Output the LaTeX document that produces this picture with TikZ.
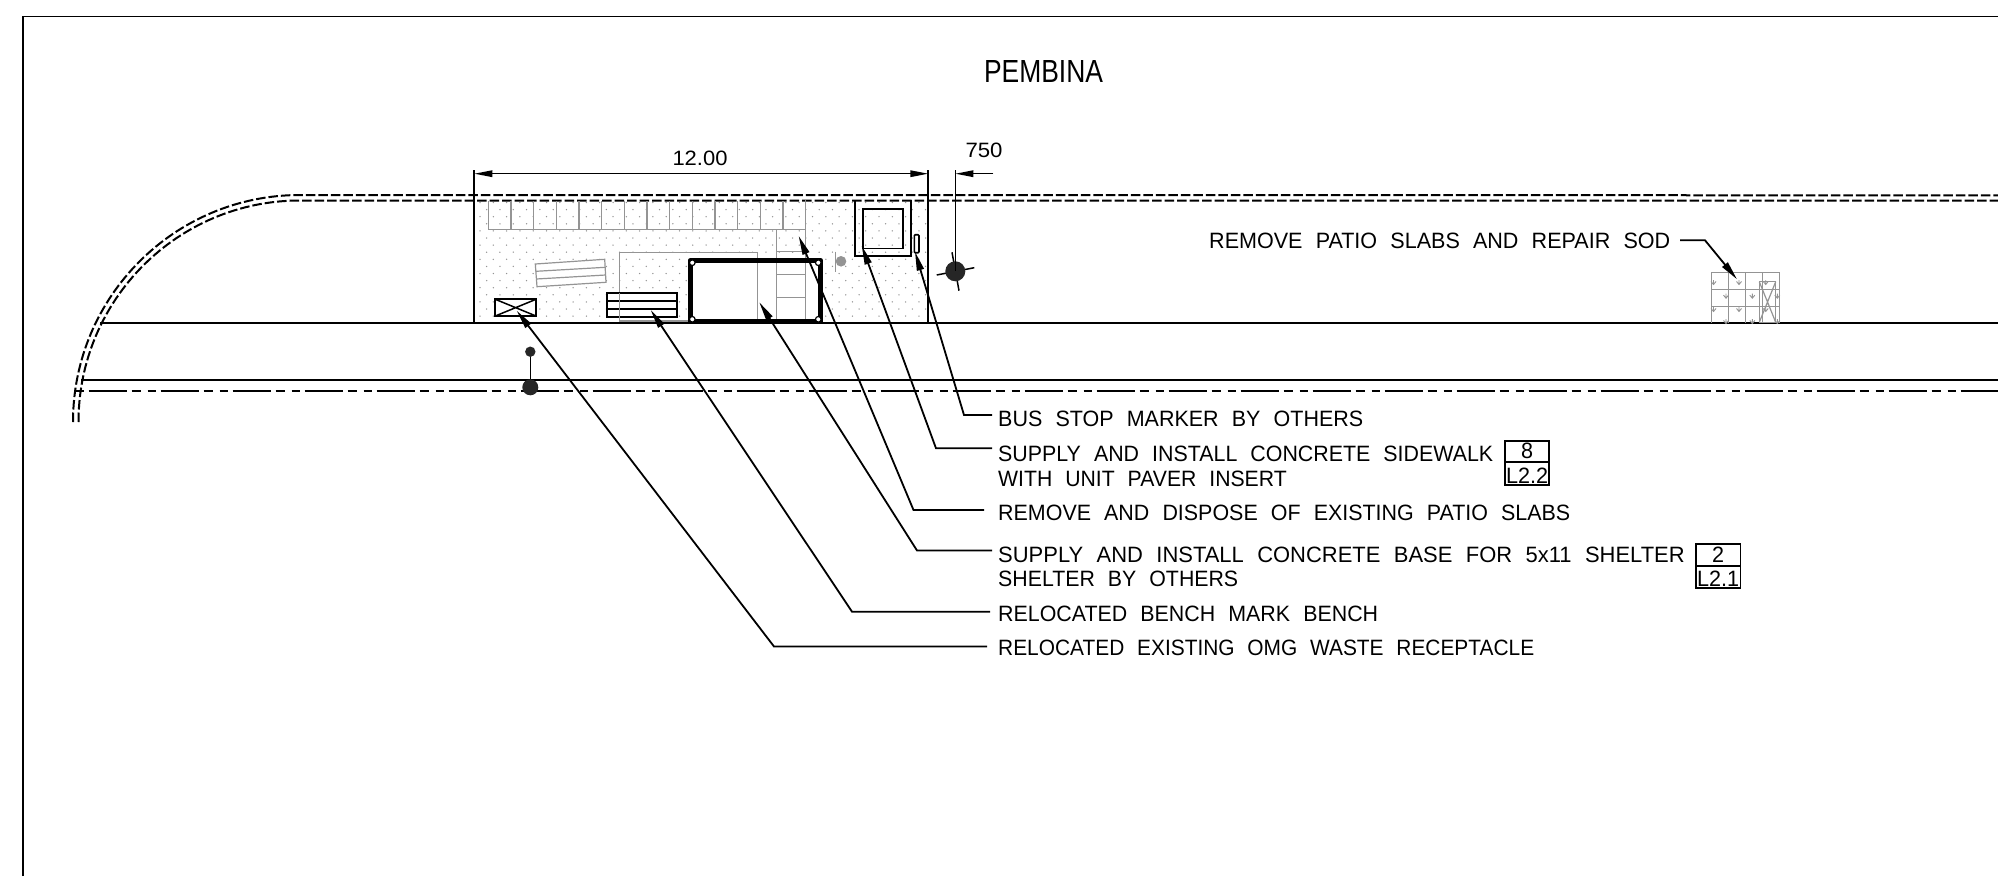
\documentclass[tikz,border=0pt]{standalone}
\usepackage{fontspec}
\setmainfont[WordSpace=2.2]{Liberation Sans}
\usetikzlibrary{arrows.meta}
\definecolor{gr}{gray}{0.58}
\tikzset{
  every picture/.style={x=1pt,y=-1pt},
  ln/.style={line width=1.7pt,black},
  gl/.style={line width=1.2pt,gr},
  dashroad/.style={line width=2pt,dash pattern=on 9.5pt off 3pt},
  centre/.style={line width=2pt,dash pattern=on 38pt off 5pt on 9pt off 7pt on 8pt off 5pt,dash phase=57.3pt},
  leader/.style={line width=1.8pt,-{Triangle[length=19pt,width=7pt]}},
  dimline/.style={line width=1.5pt},
  dimtip/.style={-{Triangle[length=18pt,width=6.5pt]}},
  lab/.style={inner sep=0pt,anchor=base west,font=\fontsize{21}{21}\selectfont},
  ctr/.style={inner sep=0pt,anchor=base,font=\fontsize{21}{21}\selectfont},
}
\newcommand{\lbl}[2]{\resizebox{#1pt}{15.5pt}{#2}}
\begin{document}
\begin{tikzpicture}
\useasboundingbox (0,0) rectangle (1998,876);
% frame
\draw[ln] (23,876) -- (23,16.5) -- (1998,16.5);
\node[ctr] (title) at (1043.5,82.8) {\resizebox{119pt}{22pt}{PEMBINA}};
% stipple
\begin{scope}
\clip (474,201) rectangle (928,323);
\foreach \r in {0,...,17}{
  \pgfmathsetmacro{\yy}{202.5+7.1*\r}
  \pgfmathsetmacro{\ox}{mod(\r,2)==0 ? 0 : 6.65}
  \foreach \c in {0,...,34}{
    \fill[gr] ({480+\ox+13.3*\c},\yy) circle (0.75);
  }
}
\end{scope}
% road
\draw[dashroad] (73,422) arc[start angle=180,end angle=270,x radius=227pt,y radius=-227pt] -- (1998,195.3);
\draw[dashroad] (78.5,422) arc[start angle=180,end angle=270,x radius=221.5pt,y radius=-221.5pt] -- (1998,200.5);
\draw[ln] (100,323.3) -- (1998,323.3);
\draw[ln] (81,380) -- (1998,380);
\draw[centre] (74,391.3) -- (1998,391.3);
% site boundaries
\draw[ln] (474.3,170) -- (474.3,323);
\draw[line width=2.1pt] (928.3,170) -- (928.3,323);
% paver teeth
\foreach \k in {0,...,14}{ \draw[gl] ({488.3+22.67*\k},201) -- ({488.3+22.67*\k},229.3); }
\draw[gl] (488.3,229.3) -- (805.7,229.3);
% gray bench
\draw[gl,fill=white] (535.3,264) -- (604.7,259.3) -- (606,282.3) -- (537,286.7) -- cycle;
\draw[gl] (536,271.3) -- (605.3,267.3);
\draw[gl] (536.3,279) -- (605.7,275);
% shelter
\fill[white] (690.3,260.5) rectangle (820.5,321.3);
\draw[gl] (619.3,321) -- (619.3,252.7) -- (757.3,252.7) -- (757.3,320);
\draw[gl] (619.3,321) -- (690,321);
\draw[gl] (776.7,229.3) -- (776.7,320);
\draw[gl] (805.7,200) -- (805.7,320.7);
\foreach \yy in {251.7,274.3,297.7}{ \draw[gl] (776.7,\yy) -- (805.7,\yy); }
\draw[line width=5.5pt,line join=round] (690.3,260.5) rectangle (820.5,321.3);
\foreach \cx/\cy in {692.3/262.7,692.3/319.3,818.3/262.7,818.3/319.3}{
  \draw[line width=1.2pt,fill=white] (\cx,\cy) circle (2.8);
}
% waste
\draw[line width=2pt,fill=white] (495.3,299.3) rectangle (536,316);
\draw[line width=1.5pt] (495.3,299.3) -- (536,316) (495.3,316) -- (536,299.3);
% bench
\draw[line width=2pt,fill=white] (607.3,293.3) rectangle (677.3,316.7);
\draw[line width=2pt] (607.3,301.3) -- (677.3,301.3) (607.3,309) -- (677.3,309);
\draw[gl] (619.3,293.3) -- (619.3,321) -- (680,321);
% gray post
\draw[line width=1.4pt,gr] (835.7,251.7) -- (835.7,271.7);
\fill[gr] (841,261.3) circle (5.3);
% concrete sidewalk box
\draw[line width=1.6pt] (855,200.3) -- (855,256) -- (910.7,256) -- (910.7,200.3);
\draw[line width=1.6pt] (862.7,208.7) rectangle (902.7,248.3);
% bus marker
\draw[line width=1.6pt,fill=white,rounded corners=1pt] (914.3,234.7) rectangle (919,252.7);
% bus stop symbol
\draw[line width=1.5pt] (936.7,275) -- (974.3,267.7);
\draw[line width=1.5pt] (952,252.3) -- (959,290.7);
\fill[black!85] (955.3,271.3) circle (10);
% pole
\draw[line width=1.6pt] (530.3,351.7) -- (530.3,387.3);
\fill[black!85] (530.3,351.7) circle (5.2);
\fill[black!85] (530.3,387.3) circle (8);
% dimensions
\coordinate (dl) at (474.3,173.7);
\coordinate (dr) at (928.3,173.7);
\draw[dimline,dimtip] (700,173.7) -- (dl);
\draw[dimline,dimtip] (700,173.7) -- (dr);
\node[ctr] (d12) at (700,165) {\resizebox{55pt}{14.5pt}{12.00}};
\coordinate (ds) at (955.3,173.7);
\coordinate (de) at (993.3,173.7);
\draw[dimline,dimtip] (de) -- (ds);
\draw[dimline] (955.3,170) -- (955.3,271);
\node[ctr] (d750) at (984,157) {\resizebox{37pt}{14.5pt}{750}};
% slab plot
\foreach \xx in {1711.3,1728.7,1745.7,1762.7,1779.7}{ \draw[gl] (\xx,272.3) -- (\xx,323.3); }
\foreach \yy in {272.3,289.3,306.7}{ \draw[gl] (1711.3,\yy) -- (1779.7,\yy); }
\draw[gl] (1759.3,281.7) rectangle (1775.7,322.3);
\draw[gl] (1759.3,281.7) -- (1775.7,322.3) (1759.3,322.3) -- (1775.7,281.7);
\foreach \mx/\my in {1739/283,1726/296.7,1752.3/296.7,1765.7/283,1713.5/283,1713.5/310,1739/310,1765.7/310,1777.3/296.7,1726/322,1752.3/322,1777.3/322}{
  \draw[line width=.9pt,gr] (\mx-2.5,\my-1.5) -- (\mx,\my+1.5) -- (\mx+2.5,\my-1.5) (\mx,\my-3) -- (\mx,\my+1.5);
}
% labels
\node[lab] (tsod) at (1209,248) {\lbl{461}{REMOVE PATIO SLABS AND REPAIR SOD}};
\node[lab] (tbus) at (998,426.3) {\lbl{365}{BUS STOP MARKER BY OTHERS}};
\node[lab] (tsw) at (998,461.7) {\lbl{495}{SUPPLY AND INSTALL CONCRETE SIDEWALK}};
\node[lab] (twu) at (998,486) {\lbl{288.5}{WITH UNIT PAVER INSERT}};
\node[lab] (trm) at (998,520.7) {\lbl{572}{REMOVE AND DISPOSE OF EXISTING PATIO SLABS}};
\node[lab] (tcb) at (998,562.3) {\lbl{686.5}{SUPPLY AND INSTALL CONCRETE BASE FOR 5x11 SHELTER}};
\node[lab] (tso) at (998,586) {\lbl{240}{SHELTER BY OTHERS}};
\node[lab] (tbn) at (998,621.7) {\lbl{380}{RELOCATED BENCH MARK BENCH}};
\node[lab] (twr) at (998,655) {\lbl{536}{RELOCATED EXISTING OMG WASTE RECEPTACLE}};
% keynote boxes
\node[ctr] (k8) at (1527,458) {\resizebox{12pt}{15.5pt}{8}};
\node[ctr] (l22) at (1527,483) {\resizebox{42pt}{15.5pt}{L2.2}};
\draw[line width=1.7pt] (1505,440.7) rectangle (1549,485) (1505,462.3) -- (1549,462.3);
\node[ctr] (k2) at (1718,562) {\resizebox{12pt}{15.5pt}{2}};
\node[ctr] (l21) at (1718,586.7) {\resizebox{42pt}{15.5pt}{L2.1}};
\draw[line width=1.7pt] (1696,544) rectangle (1740.6,588) (1696,565.7) -- (1740.6,565.7);
% leaders
\coordinate (a1) at (1680,240.3); \coordinate (e1) at (1705,240.3); \coordinate (t1) at (1737,279.3);
\coordinate (a2) at (992,415); \coordinate (e2) at (964,415); \coordinate (t2) at (915,251.7);
\coordinate (a3) at (992,448.3); \coordinate (e3) at (936,448.3); \coordinate (t3) at (861.7,245.7);
\coordinate (a4) at (984,510); \coordinate (e4) at (913.5,510); \coordinate (t4) at (798.7,236);
\coordinate (a5) at (992,550.5); \coordinate (e5) at (917,550.5); \coordinate (t5) at (759.3,302.3);
\coordinate (a6) at (990,611.7); \coordinate (e6) at (852,611.7); \coordinate (t6) at (650.7,310);
\coordinate (a7) at (987,646.5); \coordinate (e7) at (774,646.5); \coordinate (t7) at (516.7,310.7);
\foreach \i in {1,...,7}{ \draw[leader] (a\i) -- (e\i) -- (t\i); }
\end{tikzpicture}
\end{document}
